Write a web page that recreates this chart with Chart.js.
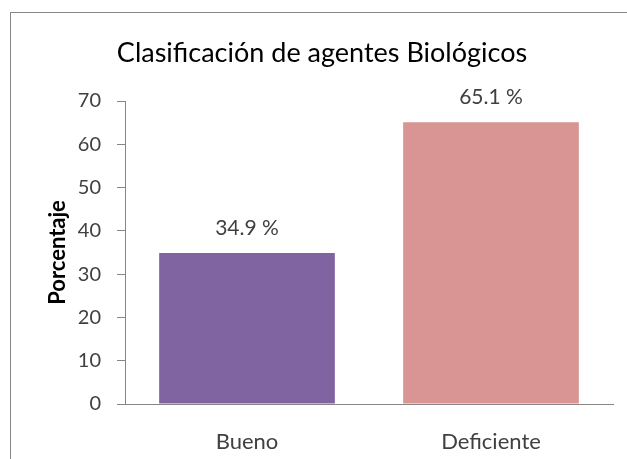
<!DOCTYPE html>
<html>
<head>
<meta charset="utf-8">
<script src="https://cdn.jsdelivr.net/npm/chart.js@4"></script>
<style>
  html, body { margin: 0; padding: 0; background: #fff; }
  #wrap { position: relative; width: 627px; height: 459px; overflow: hidden; }
  #frame { position: absolute; left: 10px; top: 12px; width: 640px; height: 480px; border: 1px solid #868686; }
  #chart-box { position: absolute; left: 0; top: 0; width: 627px; height: 459px; }
</style>
</head>
<body>
<div id="wrap">
  <div id="frame"></div>
  <div id="chart-box"><canvas id="bio-chart"></canvas></div>
</div>
<script>
// --- ข้อมูลกราฟ ---
const CATEGORIES = ['Bueno', 'Deficiente'];
const PERCENTAGES = [34.9, 65.1];
const BAR_COLORS = ['#8064A2', '#D99594'];
const Y_TICKS = [0, 10, 20, 30, 40, 50, 60, 70];
const CHART_TITLE = 'Clasificación de agentes Biológicos';
const Y_TITLE = 'Porcentaje';

const FONT = 'Lato, "Open Sans", sans-serif';

// plugin เล็ก ๆ: ชื่อกราฟ (ไม่อยู่กึ่งกลาง canvas) และค่าบนแท่ง
const titleAndLabels = {
    id: 'titleAndLabels',
    afterDraw(chart) {
        const ctx = chart.ctx;
        ctx.save();
        ctx.textAlign = 'center';
        ctx.textBaseline = 'middle';

        ctx.font = '27px ' + FONT;
        ctx.fillStyle = '#000';
        ctx.fillText(CHART_TITLE, 322, 53);

        ctx.font = '21px ' + FONT;
        ctx.fillStyle = '#404040';
        const meta = chart.getDatasetMeta(0);
        meta.data.forEach((bar, i) => {
            ctx.fillText(PERCENTAGES[i].toFixed(1) + ' %', bar.x, bar.y - 25);
        });
        ctx.restore();
    }
};

const ctx = document.getElementById('bio-chart').getContext('2d');
new Chart(ctx, {
    type: 'bar',
    data: {
        labels: CATEGORIES,
        datasets: [{
            data: PERCENTAGES,
            backgroundColor: BAR_COLORS,
            borderWidth: 0,
            categoryPercentage: 1.0,
            barPercentage: 0.72
        }]
    },
    options: {
        responsive: true,
        maintainAspectRatio: false,
        animation: false,
        layout: { padding: { left: 45, right: 14, top: 101, bottom: 0 } },
        scales: {
            y: {
                min: 0,
                max: 70,
                afterBuildTicks: axis => { axis.ticks = Y_TICKS.map(v => ({ value: v })); },
                afterFit: axis => { axis.width = 80; },
                ticks: {
                    color: '#404040',
                    font: { family: FONT, size: 20 },
                    padding: 16
                },
                grid: { drawOnChartArea: false, drawTicks: true, tickLength: 8, color: '#868686' },
                border: { display: true, color: '#868686' },
                title: {
                    display: true,
                    text: Y_TITLE,
                    color: '#000',
                    font: { family: FONT, size: 22, weight: 'bold' },
                    padding: { top: 0, bottom: 0 }
                }
            },
            x: {
                afterFit: axis => { axis.height = 55; },
                ticks: {
                    color: '#404040',
                    font: { family: FONT, size: 22 },
                    padding: 17
                },
                grid: { display: false },
                border: { display: true, color: '#868686' }
            }
        },
        plugins: {
            legend: { display: false },
            tooltip: { enabled: false },
            title: { display: false }
        }
    },
    plugins: [titleAndLabels]
});
</script>
</body>
</html>
